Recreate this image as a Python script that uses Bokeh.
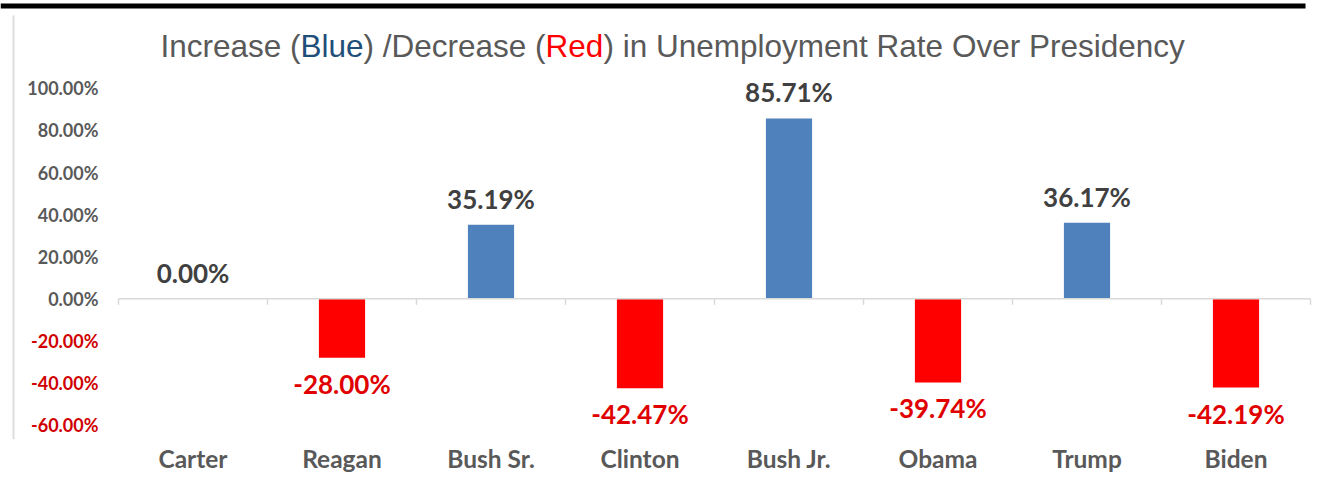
from bokeh.plotting import figure
from bokeh.models import (Range1d, FixedTicker, ColumnDataSource, Label, CustomJSTickFormatter)
from bokeh.embed import file_html
from bokeh.resources import INLINE
from bokeh.core.properties import value

# ---------------- data ----------------
presidents = ["Carter", "Reagan", "Bush Sr.", "Clinton", "Bush Jr.", "Obama", "Trump", "Biden"]
changes = [0.00, -28.00, 35.19, -42.47, 85.71, -39.74, 36.17, -42.19]
y_ticks = [-60, -40, -20, 0, 20, 40, 60, 80, 100]
title_parts = ["Increase (", "Blue", ") /Decrease (", "Red", ") in Unemployment Rate Over Presidency"]

# ---------------- styles / layout ----------------
BLUE_BAR = "#4F81BD"
RED_BAR = "#FF0000"
GRAY = "#595959"
DARK = "#404040"
RED_TXT = "#E00000"
FONT = "Lato"

FW, FH = 1320, 439            # frame size in px
PLOT_LEFT = 118               # px where first category starts
CAT_PX = 149                  # px per category
ZERO_PX = 298.3               # px of the zero line (from top)
PPU = 2.104                   # px per percentage point

def xs(px):                   # window px -> x data
    return (px - PLOT_LEFT) / CAT_PX

def ys(px):                   # window px -> y data
    return (ZERO_PX - px) / PPU

x_range = Range1d(xs(0), xs(FW))
y_range = Range1d(ys(FH), ys(0))

p = figure(x_range=x_range, y_range=y_range, frame_width=FW, frame_height=FH,
           min_border_left=0, min_border_right=0, min_border_top=0, min_border_bottom=36,
           output_backend="svg", toolbar_location=None)
p.outline_line_color = None
p.xgrid.visible = False
p.ygrid.visible = False
p.yaxis.visible = False
p.background_fill_color = "white"
p.border_fill_color = "white"

centers = [i + 0.5 for i in range(len(presidents))]

# bars
pos = [i for i, v in enumerate(changes) if v >= 0]
neg = [i for i, v in enumerate(changes) if v < 0]
pos_src = ColumnDataSource(dict(x=[centers[i] for i in pos], y=[changes[i] for i in pos],
                                t=[f"{changes[i]:.2f}%" for i in pos]))
neg_src = ColumnDataSource(dict(x=[centers[i] for i in neg], y=[changes[i] for i in neg],
                                t=[f"{changes[i]:.2f}%" for i in neg]))
p.vbar(x="x", top="y", bottom=0, width=0.31, source=pos_src, fill_color=BLUE_BAR, line_color=None)
p.vbar(x="x", top="y", bottom=0, width=0.31, source=neg_src, fill_color=RED_BAR, line_color=None)

# zero line with category-boundary ticks
n = len(presidents)
p.segment(x0=[0], x1=[n], y0=[0], y1=[0], line_color="#D9D9D9", line_width=1.5)
bounds = list(range(n + 1))
p.segment(x0=bounds, x1=bounds, y0=[0] * len(bounds), y1=[-6 / PPU] * len(bounds),
          line_color="#D9D9D9", line_width=1.5)

# data labels
p.text(x="x", y="y", text="t", source=pos_src, text_align="center", text_baseline="middle",
       y_offset=-26, text_font=value(FONT), text_font_style="bold", text_font_size="26px",
       text_color=DARK)
p.text(x="x", y="y", text="t", source=neg_src, text_align="center", text_baseline="middle",
       y_offset=26, text_font=value(FONT), text_font_style="bold", text_font_size="26px",
       text_color=RED_TXT)

# y tick labels (coloured by sign)
ytick_src = ColumnDataSource(dict(x=[xs(98)] * len(y_ticks), y=y_ticks,
                                  t=[f"{t:.2f}%" for t in y_ticks],
                                  c=["#D00000" if t < 0 else GRAY for t in y_ticks]))
p.text(x="x", y="y", text="t", text_color="c", source=ytick_src, text_align="right",
       text_baseline="middle", text_font=value(FONT), text_font_style="bold",
       text_font_size="18px")

# category axis
p.xaxis.ticker = FixedTicker(ticks=centers)
p.xaxis.formatter = CustomJSTickFormatter(args=dict(names=presidents),
                                          code="return names[Math.floor(tick)];")
p.xaxis.axis_line_color = None
p.xaxis.major_tick_line_color = None
p.xaxis.minor_tick_line_color = None
p.xaxis.major_tick_in = 0
p.xaxis.major_tick_out = 0
p.xaxis.major_label_text_font = FONT
p.xaxis.major_label_text_font_style = "bold"
p.xaxis.major_label_text_font_size = "24.5px"
p.xaxis.major_label_text_color = GRAY
p.xaxis.major_label_standoff = 4

# page decorations of the original image (top black rule, left grey rule)
p.quad(left=[xs(0)], right=[xs(1305)], top=[ys(3)], bottom=[ys(8)], fill_color="black", line_color=None)
p.segment(x0=[xs(13)], x1=[xs(13)], y0=[ys(15)], y1=[ys(FH)], line_color="#DDDDDD", line_width=2)

# title in pieces (multi-coloured)
title_x_px = [160, 300, 363, 545, 603]
title_colors = [GRAY, "#1F4E79", GRAY, "#FF0000", GRAY]
for txt, xp, col in zip(title_parts, title_x_px, title_colors):
    p.add_layout(Label(x=xs(xp), y=ys(45), text=txt,
                       text_align="left", text_baseline="middle",
                       text_font="Liberation Sans", text_font_size="31.5px", text_color=col))

open("out.html", "w").write(file_html(p, INLINE))
